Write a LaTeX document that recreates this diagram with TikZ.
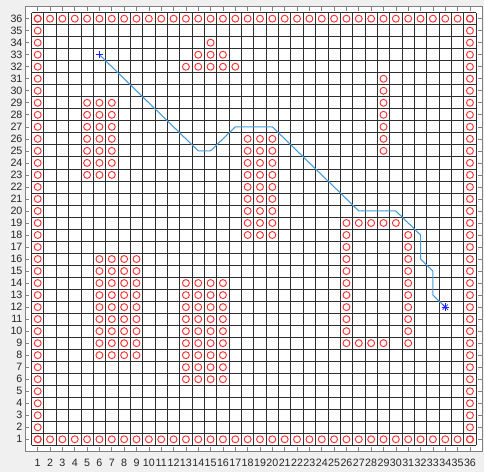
\documentclass[tikz,border=0pt]{standalone}
\usepackage{fontspec}
\setmainfont{Liberation Sans}
\usetikzlibrary{calc}
\definecolor{FigGray}{HTML}{F0F0F0}
\definecolor{AxisGray}{HTML}{808080}
\definecolor{GridDark}{HTML}{2E2E2E}
\definecolor{LabelGray}{HTML}{262626}
\definecolor{PathBlue}{RGB}{70,155,215}
\definecolor{MarkRed}{HTML}{FF3030}
\definecolor{MarkBlue}{HTML}{1F1FFF}
\tikzset{
    ticklabel/.style={font=\fontsize{8}{9}\selectfont, text=LabelGray, inner sep=0pt},
    obstacle/.style={MarkRed, line width=0.7pt},
    route/.style={PathBlue, line width=0.8pt, line join=round},
    marker/.style={MarkBlue, line width=0.6pt}
}
\NewDocumentCommand{\Obstacle}{O{(0,0)}}{
    \draw[obstacle] #1 circle (2.6pt);
}
\NewDocumentCommand{\ObstacleBlock}{mmmm}{
    \foreach \c in {#1,...,#2}{
        \foreach \r in {#3,...,#4}{
            \Obstacle[(\c,\r)]
        }
    }
}

\begin{document}
\begin{tikzpicture}[x=9.2625pt, y=9.0128pt]
\useasboundingbox (-2.053,-1.723) rectangle (37.138,37.556);
\fill[FigGray] (-2.053,-1.723) rectangle (37.138,37.556);
\fill[white] (0,0) rectangle (37,37);

\foreach \g in {0.5,1.5,...,36.5}{
    \draw[GridDark, line width=0.6pt] (\g,0.5) -- (\g,36.5);
    \draw[GridDark, line width=0.6pt] (0.5,\g) -- (36.5,\g);
}
\draw[AxisGray, line width=0.6pt] (0,0) rectangle (37,37);

\foreach \k in {1,...,36}{
    \draw[AxisGray, line width=0.5pt] (\k,0) -- ++(0,3pt);
    \draw[AxisGray, line width=0.5pt] (\k,37) -- ++(0,-3pt);
    \draw[AxisGray, line width=0.5pt] (0,\k) -- ++(3pt,0);
    \draw[AxisGray, line width=0.5pt] (37,\k) -- ++(-3pt,0);
    \node[ticklabel] (xlab-\k) at (\k,-0.95) {\k};
    \node[ticklabel, anchor=east] (ylab-\k) at (-0.22,\k) {\k};
}

\coordinate (start) at (6,33);
\coordinate (goal) at (34,12);

\draw[route] (start) -- (14,25) -- (15,25) -- (17,27) -- (20,27) -- (27,20)
    -- (30,20) -- (32,18) -- (32,16) -- (33,15) -- (33,13) -- (goal);

\foreach \k in {1,...,36}{
    \Obstacle[(\k,1)]
    \Obstacle[(\k,36)]
    \Obstacle[(1,\k)]
    \Obstacle[(36,\k)]
}
\ObstacleBlock{5}{7}{23}{29}
\ObstacleBlock{6}{9}{8}{16}
\ObstacleBlock{13}{16}{6}{14}
\ObstacleBlock{18}{20}{18}{26}
\ObstacleBlock{29}{29}{25}{31}
\ObstacleBlock{15}{15}{34}{34}
\ObstacleBlock{14}{16}{33}{33}
\ObstacleBlock{13}{17}{32}{32}
\ObstacleBlock{26}{30}{19}{19}
\ObstacleBlock{26}{26}{9}{18}
\ObstacleBlock{27}{29}{9}{9}
\ObstacleBlock{31}{31}{9}{18}

\draw[marker] ([xshift=-2.8pt]start) -- ([xshift=2.8pt]start);
\draw[marker] ([yshift=-2.8pt]start) -- ([yshift=2.8pt]start);
\draw[marker] ([xshift=-2.8pt]goal) -- ([xshift=2.8pt]goal);
\draw[marker] ([yshift=-2.8pt]goal) -- ([yshift=2.8pt]goal);
\draw[marker] ([shift={(-2pt,-2pt)}]goal) -- ([shift={(2pt,2pt)}]goal);
\draw[marker] ([shift={(-2pt,2pt)}]goal) -- ([shift={(2pt,-2pt)}]goal);
\end{tikzpicture}
\end{document}
